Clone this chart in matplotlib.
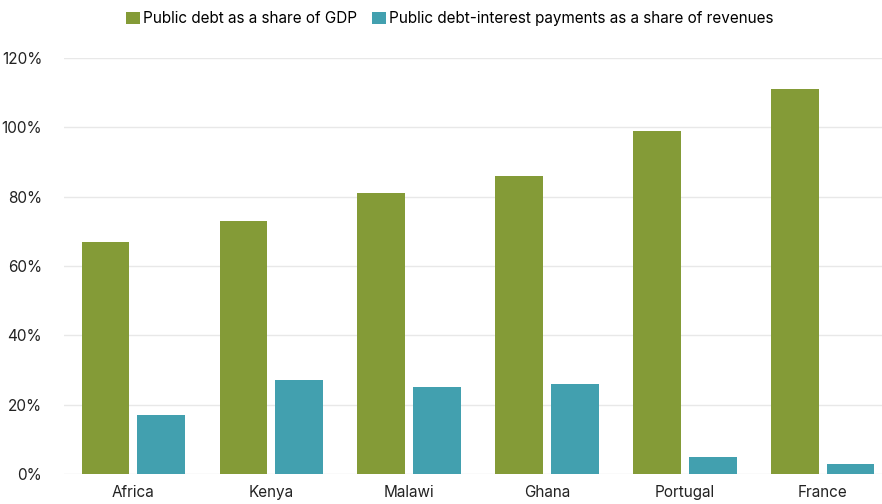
import numpy as np
import matplotlib.pyplot as plt

plt.rcParams['font.family'] = ['Inter', 'DejaVu Sans']

countries = ["Africa", "Kenya", "Malawi", "Ghana", "Portugal", "France"]
debt_gdp = [67, 73, 81, 86, 99, 111]
interest_rev = [17, 27, 25, 26, 5, 3]
yticks = [0, 20, 40, 60, 80, 100, 120]

green = "#849B37"
teal = "#42A0AF"

fig = plt.figure(figsize=(8.82, 5.04), dpi=100)
ax = fig.add_axes([0.073, 0.0595, 0.938, 0.8255])

x = np.arange(len(countries))
w = 0.345
gap = 0.06
ax.bar(x - (w + gap) / 2, debt_gdp, w, color=green, label="Public debt as a share of GDP", zorder=3)
ax.bar(x + (w + gap) / 2, interest_rev, w, color=teal,
       label="Public debt-interest payments as a share of revenues", zorder=3)

ax.set_xlim(-0.5, len(countries) - 0.5)
ax.set_ylim(0, 120)
ax.set_yticks(yticks)
ax.set_yticklabels([f"{v}%" for v in yticks])
ax.set_xticks(x)
ax.set_xticklabels(countries)
ax.tick_params(length=0, labelsize=11, colors="#222222")
ax.tick_params(axis="y", pad=16)
ax.tick_params(axis="x", pad=8)
ax.grid(axis="y", color="#e8e8e8", lw=1, zorder=0)
for s in ax.spines.values():
    s.set_visible(False)

fig.legend(loc="upper center", bbox_to_anchor=(0.51, 1.005), ncol=2, frameon=False,
           fontsize=11, handlelength=0.9, handleheight=0.9, handletextpad=0.2,
           columnspacing=1.0)

fig.savefig("out.png", dpi=100)
